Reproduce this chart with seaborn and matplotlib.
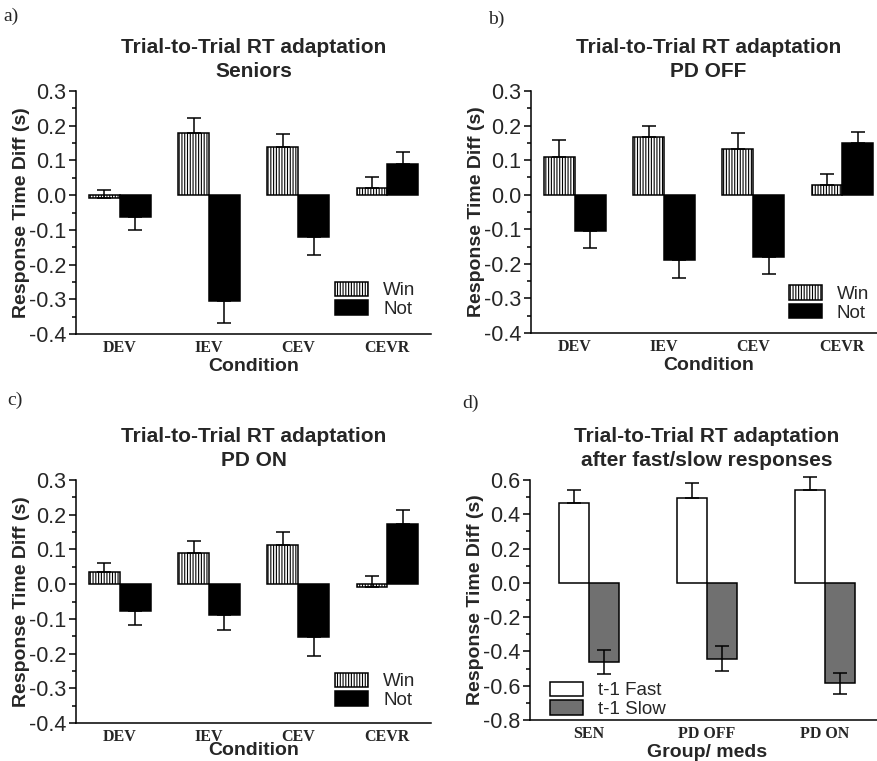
import numpy as np
import pandas as pd
import matplotlib
matplotlib.use("Agg")
import matplotlib.pyplot as plt
from matplotlib.patches import Patch
from matplotlib.ticker import MultipleLocator, FormatStrFormatter
import seaborn as sns

# Data
conditions = ["DEV", "IEV", "CEV", "CEVR"]

sen_win = [-0.008, 0.179, 0.139, 0.022]
sen_win_err = [0.024, 0.042, 0.038, 0.030]
sen_not = [-0.063, -0.306, -0.121, 0.091]
sen_not_err = [0.037, 0.061, 0.050, 0.033]

off_win = [0.110, 0.166, 0.131, 0.028]
off_win_err = [0.048, 0.032, 0.049, 0.031]
off_not = [-0.104, -0.189, -0.181, 0.151]
off_not_err = [0.049, 0.052, 0.047, 0.031]

on_win = [0.034, 0.091, 0.114, -0.008]
on_win_err = [0.026, 0.033, 0.036, 0.032]
on_not = [-0.078, -0.088, -0.153, 0.173]
on_not_err = [0.041, 0.043, 0.054, 0.042]

groups = ["SEN", "PD OFF", "PD ON"]
fast = [0.468, 0.497, 0.542]
fast_err = [0.076, 0.084, 0.075]
slow = [-0.460, -0.443, -0.587]
slow_err = [0.070, 0.072, 0.061]

sns.set_style("ticks")
plt.rcParams["font.family"] = ["Liberation Sans", "DejaVu Sans"]
plt.rcParams["axes.unicode_minus"] = False
plt.rcParams["hatch.linewidth"] = 0.8

HATCH = "||||||"
SLOW_GREY = "#707070"

fig = plt.figure(figsize=(8.77, 7.61), dpi=100)


def style_axis(ax, lo, hi, major, title, xlabel, letter, letter_xy, xlabelpad=1.5):
    ax.set_ylim(lo, hi)
    ax.yaxis.set_major_locator(MultipleLocator(major))
    ax.yaxis.set_minor_locator(MultipleLocator(major / 2))
    ax.yaxis.set_major_formatter(FormatStrFormatter("%.1f"))
    sns.despine(ax=ax)
    for s in ["left", "bottom"]:
        ax.spines[s].set_linewidth(1.1)
        ax.spines[s].set_color("black")
    ax.tick_params(axis="y", which="major", length=5, width=1.1, labelsize=15.5, pad=2, color="black")
    ax.tick_params(axis="y", which="minor", length=3, width=1.1, color="black")
    ax.tick_params(axis="x", length=0, pad=4)
    for lab in ax.get_xticklabels():
        lab.set_family(["Liberation Serif", "DejaVu Serif"])
        lab.set_fontweight("bold")
        lab.set_fontsize(11.5)
    ax.set_ylabel("Response Time Diff (s)", fontsize=14, fontweight="bold", labelpad=-1)
    ax.set_xlabel(xlabel, fontsize=14, fontweight="bold", labelpad=xlabelpad)
    ax.set_title(title, fontsize=15, fontweight="bold", linespacing=1.35, pad=10)
    fig.text(letter_xy[0], letter_xy[1], letter, fontsize=14,
             family=["Liberation Serif", "DejaVu Serif"], va="center", ha="left")


def win_not_panel(rect, win, win_err, notv, not_err, subtitle, letter, letter_xy, leg_anchor,
                  xlabelpad=1.5):
    ax = fig.add_axes(rect)
    df = pd.DataFrame({
        "Condition": conditions * 2,
        "value": win + notv,
        "type": ["Win"] * 4 + ["Not"] * 4,
    })
    sns.barplot(data=df, x="Condition", y="value", hue="type", order=conditions,
                hue_order=["Win", "Not"], errorbar=None, width=0.69, gap=0,
                legend=False, ax=ax)
    for p in ax.containers[0]:
        p.set_facecolor("white")
        p.set_edgecolor("black")
        p.set_hatch(HATCH)
        p.set_linewidth(1.1)
    for p in ax.containers[1]:
        p.set_facecolor("black")
        p.set_edgecolor("black")
        p.set_linewidth(1.1)
    # one-sided error bars, pointing away from zero (Win always up)
    for cont, vals, errs, is_win in [(ax.containers[0], win, win_err, True),
                                     (ax.containers[1], notv, not_err, False)]:
        xs = [p.get_x() + p.get_width() / 2 for p in cont]
        up = [e if (is_win or v >= 0) else 0 for v, e in zip(vals, errs)]
        dn = [0 if (is_win or v >= 0) else e for v, e in zip(vals, errs)]
        ax.errorbar(xs, vals, yerr=[dn, up], fmt="none", ecolor="black",
                    elinewidth=1.1, capsize=5, capthick=1.1, zorder=5, clip_on=False)
    ax.set_xlim(-0.49, 3.49)
    style_axis(ax, -0.4, 0.3, 0.1, "Trial-to-Trial RT adaptation\n" + subtitle,
               "Condition", letter, letter_xy, xlabelpad)
    handles = [Patch(facecolor="white", edgecolor="black", hatch=HATCH, linewidth=1.1),
               Patch(facecolor="black", edgecolor="black", linewidth=1.1)]
    ax.legend(handles, ["Win", "Not"], loc="upper left", bbox_to_anchor=leg_anchor,
              frameon=False, fontsize=13.5, handlelength=1.75, handleheight=0.8,
              labelspacing=0.05, borderpad=0, borderaxespad=0, handletextpad=0.8)
    return ax


win_not_panel([0.0867, 0.5611, 0.4048, 0.3193], sen_win, sen_win_err, sen_not, sen_not_err,
              "Seniors", "a)", (0.004, 0.978), (0.73, 0.215))
win_not_panel([0.6055, 0.5624, 0.4048, 0.3180], off_win, off_win_err, off_not, off_not_err,
              "PD OFF", "b)", (0.557, 0.974), (0.727, 0.197))
win_not_panel([0.0867, 0.0499, 0.4048, 0.3193], on_win, on_win_err, on_not, on_not_err,
              "PD ON", "c)", (0.008, 0.474), (0.73, 0.207), xlabelpad=-1.8)

# Panel d: fast / slow
ax = fig.add_axes([0.6043, 0.0539, 0.4037, 0.3154])
df = pd.DataFrame({
    "Group": groups * 2,
    "value": fast + slow,
    "prev": ["t-1 Fast"] * 3 + ["t-1 Slow"] * 3,
})
sns.barplot(data=df, x="Group", y="value", hue="prev", order=groups,
            hue_order=["t-1 Fast", "t-1 Slow"], errorbar=None, width=0.51, gap=0,
            legend=False, ax=ax)
for p in ax.containers[0]:
    p.set_facecolor("white")
    p.set_edgecolor("black")
    p.set_linewidth(1.1)
for p in ax.containers[1]:
    p.set_facecolor(SLOW_GREY)
    p.set_edgecolor("black")
    p.set_linewidth(1.1)
xs = [p.get_x() + p.get_width() / 2 for p in ax.containers[0]]
ax.errorbar(xs, fast, yerr=[[0] * 3, fast_err], fmt="none", ecolor="black",
            elinewidth=1.1, capsize=5, capthick=1.1, zorder=5, clip_on=False)
xs = [p.get_x() + p.get_width() / 2 for p in ax.containers[1]]
ax.errorbar(xs, slow, yerr=slow_err, fmt="none", ecolor="black",
            elinewidth=1.1, capsize=5, capthick=1.1, zorder=5, clip_on=False)
ax.set_xlim(-0.5, 2.5)
style_axis(ax, -0.8, 0.6, 0.2, "Trial-to-Trial RT adaptation\nafter fast/slow responses",
           "Group/ meds", "d)", (0.527, 0.470))
handles = [Patch(facecolor="white", edgecolor="black", linewidth=1.1),
           Patch(facecolor=SLOW_GREY, edgecolor="black", linewidth=1.1)]
ax.legend(handles, ["t-1 Fast", "t-1 Slow"], loc="upper left", bbox_to_anchor=(0.056, 0.16),
          frameon=False, fontsize=13.5, handlelength=1.75, handleheight=0.8,
          labelspacing=0.05, borderpad=0, borderaxespad=0, handletextpad=0.8)

fig.savefig("out.png", dpi=100)
